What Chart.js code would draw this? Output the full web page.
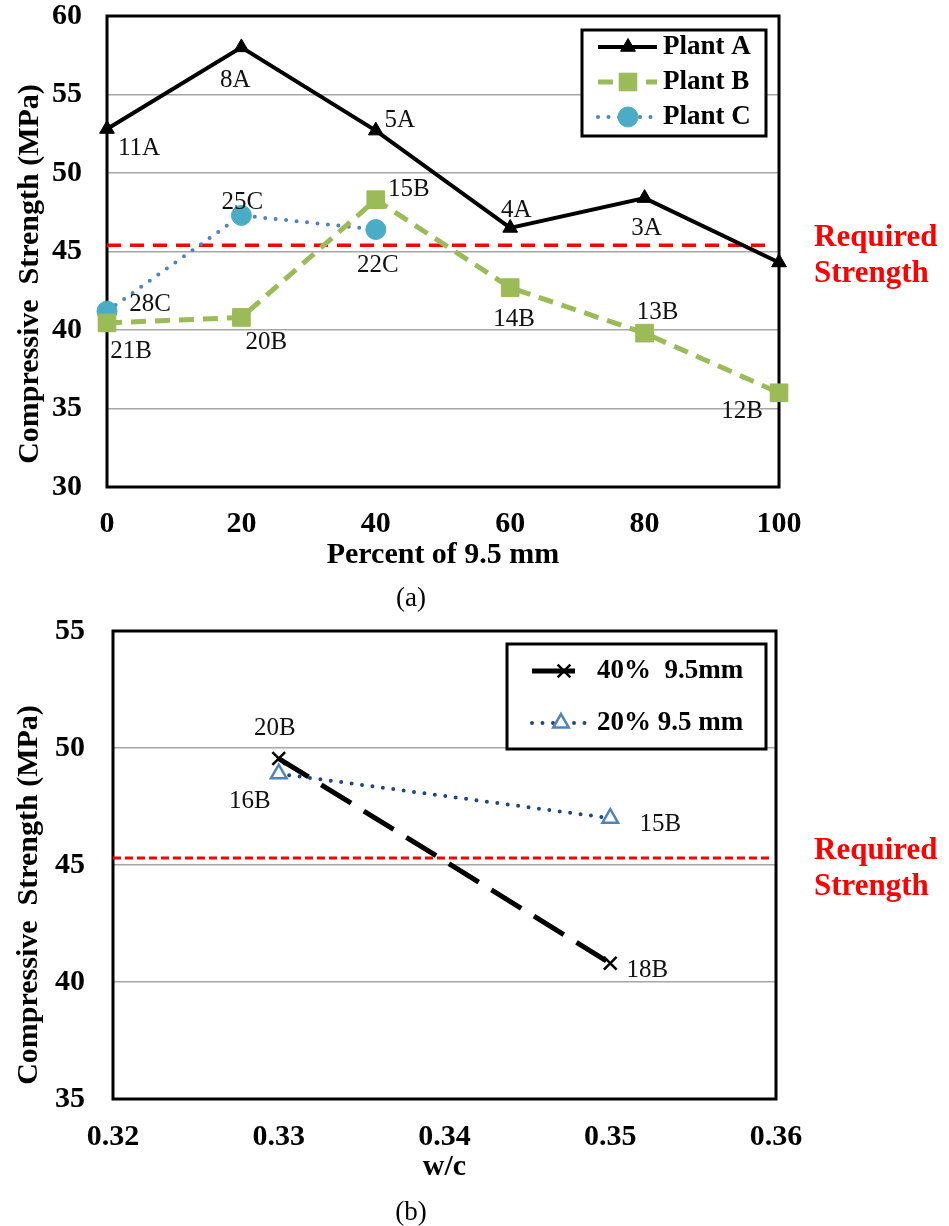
<!DOCTYPE html>
<html>
<head>
<meta charset="utf-8">
<script src="https://cdn.jsdelivr.net/npm/chart.js@4.4.1/dist/chart.umd.min.js"></script>
<style>
  body { margin: 0; background: #fff; width: 949px; height: 1226px; position: relative; overflow: hidden;
         font-family: 'Liberation Serif', 'Times New Roman', serif; }
  canvas { position: absolute; left: 0; }
  #chartA { top: 0; }
  #chartB { top: 600px; }
  .cap { position: absolute; width: 80px; text-align: center; font-size: 27px; line-height: 1; color: #000; }
</style>
</head>
<body>
<canvas id="chartA" width="949" height="580"></canvas>
<canvas id="chartB" width="949" height="600"></canvas>
<div class="cap" style="left:371px; top:584px">(a)</div>
<div class="cap" style="left:371px; top:1198px">(b)</div>
<script>
const SERIF = "'Liberation Serif', 'Times New Roman', serif";

// ----- (a) strength vs percent of 9.5 mm -----
const percentA = [0, 20, 40, 60, 80, 100];
const percentC = [0, 20, 40];
const plantA = [52.8, 58.0, 52.7, 46.5, 48.4, 44.3];
const plantB = [40.45, 40.8, 48.3, 42.7, 39.8, 36.0];
const plantC = [41.2, 47.3, 46.4];
const mixA = ['11A', '8A', '5A', '4A', '3A', ''];
const mixB = ['21B', '20B', '15B', '14B', '13B', '12B'];
const mixC = ['28C', '25C', '22C'];
const requiredA = 45.4;
const requiredSpanA = [0, 99];
const percentTicks = [0, 20, 40, 60, 80, 100];
const strengthTicksA = [30, 35, 40, 45, 50, 55, 60];

// ----- (b) strength vs w/c -----
const wc = [0.33, 0.35];
const s40 = [49.55, 40.8];
const s20 = [48.9, 47.0];
const mix40 = ['20B', '18B'];
const mix20 = ['16B', '15B'];
const requiredB = 45.3;
const requiredSpanB = [0.32, 0.3598];
const wcTicks = [0.32, 0.33, 0.34, 0.35, 0.36];
const strengthTicksB = [35, 40, 45, 50, 55];

// label placement (text centre relative to the point, px)
const offA = [[32, 19], [-6, 33], [24, -10], [6, -18], [2, 30], [0, 0]];
const offB = [[24, 29], [25, 25], [33, -10], [4, 32], [13, -21], [-37, 19]];
const offC = [[43, -7], [1, -13], [2, 36]];
const off40 = [[-4, -30], [37, 7]];
const off20 = [[-29, 28], [50, 6]];

const pts = (xs, ys) => xs.map((x, i) => ({ x: x, y: ys[i] }));

Chart.defaults.animation = false;
Chart.defaults.font.family = SERIF;
Chart.defaults.color = '#000';

const framePlugin = {
  id: 'frame',
  beforeDatasetsDraw(chart) {
    const { ctx, chartArea: a } = chart;
    ctx.save();
    ctx.strokeStyle = '#000';
    ctx.lineWidth = 3;
    ctx.strokeRect(a.left, a.top, a.right - a.left, a.bottom - a.top);
    ctx.restore();
  }
};

const pointLabels = {
  id: 'pointLabels',
  afterDatasetsDraw(chart) {
    const ctx = chart.ctx;
    ctx.save();
    ctx.font = '25px ' + SERIF;
    ctx.fillStyle = '#111';
    ctx.textAlign = 'center';
    ctx.textBaseline = 'middle';
    chart.data.datasets.forEach((ds, i) => {
      if (!ds.mixLabels) return;
      chart.getDatasetMeta(i).data.forEach((pt, j) => {
        const t = ds.mixLabels[j];
        if (!t) return;
        const o = ds.labelOffsets[j];
        ctx.fillText(t, pt.x + o[0], pt.y + o[1]);
      });
    });
    ctx.restore();
  }
};

const requiredNote = {
  id: 'requiredNote',
  afterDraw(chart, args, opts) {
    const ctx = chart.ctx;
    const y = chart.scales.y.getPixelForValue(opts.value);
    const x = chart.chartArea.right + opts.dx;
    ctx.save();
    ctx.font = 'bold 31px ' + SERIF;
    ctx.fillStyle = '#FF0000';
    ctx.textAlign = 'left';
    ctx.textBaseline = 'alphabetic';
    ctx.fillText('Required', x, y + 1);
    ctx.fillText('Strength', x, y + 37);
    ctx.restore();
  }
};

const boxLegend = {
  id: 'boxLegend',
  afterDraw(chart, args, o) {
    const ctx = chart.ctx;
    ctx.save();
    ctx.fillStyle = '#fff';
    ctx.fillRect(o.box[0], o.box[1], o.box[2], o.box[3]);
    ctx.lineWidth = 3;
    ctx.strokeStyle = '#000';
    ctx.strokeRect(o.box[0], o.box[1], o.box[2], o.box[3]);
    o.rows.forEach(r => {
      const ds = chart.data.datasets[r.index];
      ctx.save();
      ctx.strokeStyle = ds.borderColor;
      ctx.lineWidth = ds.borderWidth;
      ctx.lineCap = ds.borderCapStyle || 'butt';
      ctx.setLineDash(r.dash || ds.borderDash || []);
      ctx.beginPath();
      ctx.moveTo(r.lineX[0], r.y);
      ctx.lineTo(r.lineX[1], r.y);
      ctx.stroke();
      ctx.restore();
      ctx.save();
      ctx.fillStyle = ds.pointBackgroundColor;
      ctx.strokeStyle = ds.pointBorderColor;
      ctx.lineWidth = ds.pointBorderWidth;
      Chart.helpers.drawPoint(ctx, {
        pointStyle: ds.pointStyle, radius: ds.pointRadius,
        borderWidth: ds.pointBorderWidth, rotation: 0
      }, r.markerX, r.y);
      ctx.restore();
      ctx.font = 'bold 27px ' + SERIF;
      ctx.fillStyle = '#000';
      ctx.textAlign = 'left';
      ctx.textBaseline = 'middle';
      ctx.fillText(r.text, o.textX, r.y);
    });
    ctx.restore();
  }
};

const tickFont = { family: SERIF, size: 30, weight: 'bold' };
const titleFont = { family: SERIF, size: 30, weight: 'bold' };

// the tick padding would otherwise push the plot area down
const fixY = width => s => { s.width = width; s.paddingTop = 0; s.paddingBottom = 0; };

// ----- chart (a) -----
new Chart(document.getElementById('chartA'), {
  type: 'line',
  data: {
    datasets: [
      {
        label: 'Plant A', data: pts(percentA, plantA), mixLabels: mixA, labelOffsets: offA,
        borderColor: '#000', borderWidth: 4, tension: 0, clip: false,
        pointStyle: 'triangle', pointRadius: 8.5, pointBackgroundColor: '#000',
        pointBorderColor: '#000', pointBorderWidth: 1
      },
      {
        label: 'Plant B', data: pts(percentA, plantB), mixLabels: mixB, labelOffsets: offB,
        borderColor: '#9BBB59', borderWidth: 5, borderDash: [15, 9], tension: 0, clip: false,
        pointStyle: 'rect', pointRadius: 12.5, pointBackgroundColor: '#9BBB59',
        pointBorderColor: '#9BBB59', pointBorderWidth: 1
      },
      {
        label: 'Plant C', data: pts(percentC, plantC), mixLabels: mixC, labelOffsets: offC,
        borderColor: '#4F81BD', borderWidth: 4, borderDash: [0, 10.5], borderCapStyle: 'round',
        tension: 0, clip: false,
        pointStyle: 'circle', pointRadius: 10, pointBackgroundColor: '#4BACC6',
        pointBorderColor: '#4BACC6', pointBorderWidth: 1
      },
      {
        label: 'Required', data: pts(requiredSpanA, [requiredA, requiredA]),
        borderColor: '#FF0000', borderWidth: 3.5, borderDash: [14, 9], pointRadius: 0, tension: 0
      }
    ]
  },
  options: {
    responsive: false,
    events: [],
    layout: { padding: { left: 0, top: 16, right: 170, bottom: 0 } },
    plugins: {
      legend: { display: false },
      tooltip: { enabled: false },
      requiredNote: { value: requiredA, dx: 35 },
      boxLegend: {
        box: [582, 30, 184, 106], textX: 663,
        rows: [
          { index: 0, y: 47, lineX: [598, 657], markerX: 628, text: 'Plant A' },
          { index: 1, y: 82, lineX: [598, 657], markerX: 628, text: 'Plant B' },
          { index: 2, y: 117, lineX: [598, 657], markerX: 628, text: 'Plant C' }
        ]
      }
    },
    scales: {
      x: {
        type: 'linear', min: percentTicks[0], max: percentTicks[percentTicks.length - 1],
        afterBuildTicks: s => { s.ticks = percentTicks.map(v => ({ value: v })); },
        ticks: { padding: 19, color: '#000', font: tickFont },
        grid: { display: false, drawTicks: false },
        border: { display: false },
        title: { display: true, text: 'Percent of 9.5 mm', color: '#000', font: titleFont,
                 padding: { top: 0, bottom: 7 } },
        afterFit: s => { s.height = 93; }
      },
      y: {
        min: strengthTicksA[0], max: strengthTicksA[strengthTicksA.length - 1],
        afterBuildTicks: s => { s.ticks = strengthTicksA.map(v => ({ value: v })); },
        ticks: { padding: 25, color: '#000', font: tickFont },
        grid: { color: '#A6A6A6', lineWidth: 1.5, drawTicks: false },
        border: { display: false },
        title: { display: true, text: 'Compressive  Strength (MPa)      ', color: '#000',
                 font: titleFont, padding: { top: 12, bottom: 0 } },
        afterFit: fixY(107)
      }
    }
  },
  plugins: [framePlugin, pointLabels, requiredNote, boxLegend]
});

// ----- chart (b) -----
new Chart(document.getElementById('chartB'), {
  type: 'line',
  data: {
    datasets: [
      {
        label: '40%  9.5mm', data: pts(wc, s40), mixLabels: mix40, labelOffsets: off40,
        borderColor: '#000', borderWidth: 5, borderDash: [35, 15], tension: 0, clip: false,
        pointStyle: 'crossRot', pointRadius: 9, pointBackgroundColor: '#000',
        pointBorderColor: '#000', pointBorderWidth: 2.5
      },
      {
        label: '20% 9.5 mm', data: pts(wc, s20), mixLabels: mix20, labelOffsets: off20,
        borderColor: '#1F497D', borderWidth: 4, borderDash: [0, 10.5], borderCapStyle: 'round',
        tension: 0, clip: false,
        pointStyle: 'triangle', pointRadius: 9, pointBackgroundColor: '#fff',
        pointBorderColor: '#4F81BD', pointBorderWidth: 2.5
      },
      {
        label: 'Required', data: pts(requiredSpanB, [requiredB, requiredB]),
        borderColor: '#FF0000', borderWidth: 3, borderDash: [8, 4], pointRadius: 0, tension: 0
      }
    ]
  },
  options: {
    responsive: false,
    events: [],
    layout: { padding: { left: 0, top: 31, right: 173, bottom: 0 } },
    plugins: {
      legend: { display: false },
      tooltip: { enabled: false },
      requiredNote: { value: requiredB, dx: 38 },
      boxLegend: {
        box: [507, 44, 259, 105], textX: 597,
        rows: [
          { index: 0, y: 71, lineX: [532, 575], markerX: 564, dash: [], text: '40%  9.5mm' },
          { index: 1, y: 123, lineX: [532, 590], markerX: 561, text: '20% 9.5 mm' }
        ]
      }
    },
    scales: {
      x: {
        type: 'linear', min: wcTicks[0], max: wcTicks[wcTicks.length - 1],
        afterBuildTicks: s => { s.ticks = wcTicks.map(v => ({ value: v })); },
        ticks: { padding: 20, color: '#000', font: tickFont, callback: v => v.toFixed(2) },
        grid: { display: false, drawTicks: false },
        border: { display: false },
        title: { display: true, text: 'w/c', color: '#000', font: titleFont,
                 padding: { top: 0, bottom: 15 } },
        afterFit: s => { s.height = 101; }
      },
      y: {
        min: strengthTicksB[0], max: strengthTicksB[strengthTicksB.length - 1],
        afterBuildTicks: s => { s.ticks = strengthTicksB.map(v => ({ value: v })); },
        ticks: { padding: 28, color: '#000', font: tickFont },
        grid: { color: '#A6A6A6', lineWidth: 1.5, drawTicks: false },
        border: { display: false },
        title: { display: true, text: 'Compressive  Strength (MPa)        ', color: '#000',
                 font: titleFont, padding: { top: 11, bottom: 0 } },
        afterFit: fixY(113)
      }
    }
  },
  plugins: [framePlugin, pointLabels, requiredNote, boxLegend]
});
</script>
</body>
</html>
